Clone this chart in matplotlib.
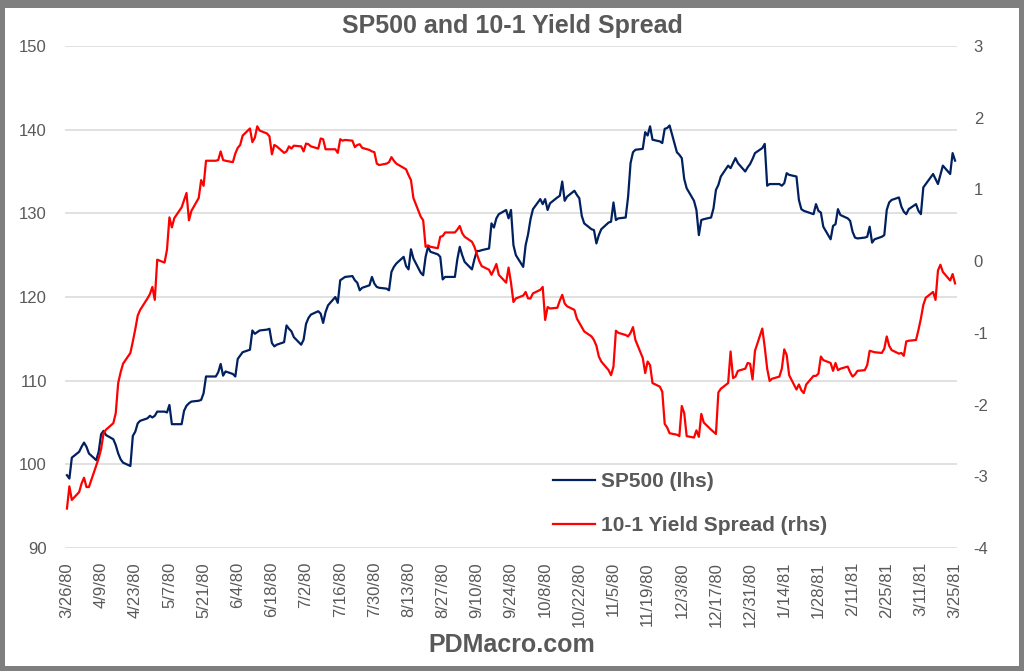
import matplotlib
matplotlib.use("Agg")
import matplotlib.pyplot as plt
import pandas as pd
from matplotlib.patches import Rectangle

# daily (business day) closes
sp500 = [
    98.7, 98.3, 100.8, 101.5, 102.1, 102.6, 102.1, 101.3, 100.5, 101.5,
    103.6, 104.0, 103.5, 103.0, 102.3, 101.3, 100.6, 100.2, 99.8, 103.4,
    103.9, 104.9, 105.2, 105.5, 105.8, 105.6, 105.8, 106.3, 106.3, 106.2,
    107.1, 104.8, 104.8, 104.8, 106.4, 107.0, 107.3, 107.5, 107.6, 107.7,
    108.5, 110.5, 110.5, 110.5, 111.0, 112.0, 110.6, 111.1, 110.8, 110.5,
    112.6, 113.0, 113.4, 113.7, 116.0, 115.6, 115.8, 116.0, 116.1, 116.2,
    114.5, 114.1, 114.3, 114.6, 116.6, 116.2, 115.9, 115.2, 114.3, 114.9,
    116.8, 117.5, 117.9, 118.3, 118.0, 116.9, 118.2, 119.0, 120.0, 119.3,
    122.0, 122.2, 122.4, 122.5, 122.0, 121.7, 120.8, 121.1, 121.4, 122.4,
    121.6, 121.2, 121.1, 121.0, 120.8, 123.0, 123.6, 124.0, 124.8, 123.7,
    123.3, 125.7, 124.6, 122.9, 122.6, 124.8, 126.0, 125.4, 125.1, 124.8,
    122.1, 122.4, 122.4, 122.4, 124.5, 126.0, 125.0, 124.2, 123.3, 124.5,
    125.5, 125.5, 125.6, 125.8, 128.8, 128.3, 129.4, 129.9, 130.4, 129.4,
    130.4, 126.2, 125.0, 123.6, 126.2, 127.5, 129.3, 130.5, 131.7, 131.1,
    131.7, 130.4, 131.2, 131.9, 132.1, 133.8, 131.5, 132.0, 132.7, 132.2,
    131.8, 129.7, 128.8, 128.1, 128.0, 126.4, 127.4, 128.1, 128.9, 129.0,
    131.3, 129.2, 129.4, 129.5, 132.0, 136.0, 137.3, 137.6, 137.7, 139.7,
    139.3, 140.4, 138.8, 138.6, 138.4, 140.1, 140.2, 140.5, 137.3, 137.0,
    136.6, 134.1, 133.0, 131.5, 130.4, 127.4, 129.2, 129.3, 129.5, 130.6,
    132.8, 133.4, 134.4, 135.7, 135.4, 136.0, 136.6, 136.0, 135.0, 135.5,
    135.9, 136.5, 137.2, 137.8, 138.3, 133.3, 133.5, 133.5, 133.5, 133.3,
    133.6, 134.8, 134.6, 134.4, 131.6, 130.5, 130.3, 130.2, 129.9, 131.1,
    130.3, 130.1, 128.4, 126.9, 128.5, 128.7, 130.5, 129.8, 129.4, 129.1,
    127.8, 127.1, 127.0, 127.1, 127.2, 128.4, 126.5, 126.9, 127.2, 127.4,
    130.4, 131.3, 131.6, 131.9, 130.8, 130.2, 129.9, 130.5, 131.1, 130.3,
    129.9, 133.1, 133.5, 134.7, 134.1, 133.5, 134.6, 135.7, 134.7, 137.2,
    136.3,
]

spread = [
    -3.45, -3.14, -3.33, -3.22, -3.10, -3.02, -3.15, -3.15, -2.85, -2.75,
    -2.62, -2.40, -2.35, -2.26, -2.12, -1.70, -1.55, -1.43, -1.28, -1.12,
    -0.95, -0.76, -0.68, -0.52, -0.46, -0.36, -0.54, 0.02, -0.02, 0.16,
    0.61, 0.47, 0.60, 0.75, 0.85, 0.95, 0.57, 0.70, 0.88, 1.13,
    1.05, 1.40, 1.40, 1.40, 1.41, 1.53, 1.41, 1.40, 1.38, 1.50,
    1.58, 1.62, 1.75, 1.85, 1.66, 1.72, 1.88, 1.82, 1.78, 1.74,
    1.49, 1.62, 1.60, 1.51, 1.53, 1.60, 1.57, 1.61, 1.60, 1.53,
    1.64, 1.63, 1.60, 1.57, 1.71, 1.70, 1.56, 1.56, 1.56, 1.51,
    1.70, 1.68, 1.69, 1.68, 1.59, 1.62, 1.63, 1.58, 1.55, 1.53,
    1.52, 1.36, 1.34, 1.36, 1.38, 1.45, 1.40, 1.36, 1.30, 1.28,
    1.20, 1.13, 0.88, 0.62, 0.57, 0.20, 0.22, 0.20, 0.18, 0.34,
    0.35, 0.40, 0.40, 0.40, 0.44, 0.49, 0.39, 0.34, 0.27, 0.20,
    0.10, 0.00, -0.07, -0.12, -0.19, -0.12, -0.04, -0.19, -0.30, -0.09,
    -0.30, -0.57, -0.52, -0.48, -0.43, -0.52, -0.52, -0.45, -0.40, -0.36,
    -0.82, -0.64, -0.66, -0.65, -0.55, -0.47, -0.59, -0.63, -0.68, -0.80,
    -0.86, -0.92, -0.98, -1.05, -1.10, -1.18, -1.33, -1.40, -1.52, -1.59,
    -1.47, -0.97, -1.00, -1.03, -1.05, -1.00, -0.92, -1.10, -1.35, -1.56,
    -1.40, -1.45, -1.70, -1.75, -1.82, -2.27, -2.32, -2.40, -2.42, -2.44,
    -2.02, -2.12, -2.44, -2.46, -2.36, -2.45, -2.13, -2.25, -2.35, -2.38,
    -2.41, -1.83, -1.78, -1.70, -1.26, -1.63, -1.61, -1.53, -1.50, -1.42,
    -1.43, -1.65, -1.25, -0.94, -1.20, -1.50, -1.67, -1.64, -1.61, -1.50,
    -1.23, -1.31, -1.59, -1.79, -1.72, -1.80, -1.84, -1.72, -1.60, -1.60,
    -1.57, -1.33, -1.38, -1.42, -1.53, -1.42, -1.52, -1.50, -1.47, -1.55,
    -1.61, -1.58, -1.53, -1.52, -1.45, -1.25, -1.26, -1.27, -1.28, -1.22,
    -1.05, -1.18, -1.24, -1.29, -1.28, -1.32, -1.12, -1.11, -1.10, -0.96,
    -0.80, -0.61, -0.51, -0.43, -0.54, -0.13, -0.05, -0.15, -0.27, -0.18,
    -0.31,
]

start, end = "1980-03-26", "1981-03-25"
dates = pd.bdate_range(start, end)
tick_dates = pd.date_range(start, end, freq="14D")
tick_labels = [f"{d.month}/{d.day}/{d.year % 100:02d}" for d in tick_dates]
assert len(dates) == len(sp500) == len(spread)

GREY = "#595959"
plt.rcParams["font.family"] = ["Liberation Sans", "DejaVu Sans"]
plt.rcParams["axes.unicode_minus"] = False

fig = plt.figure(figsize=(10.24, 6.71), dpi=100)
fig.patch.set_facecolor("#7f7f7f")
fig.add_artist(Rectangle((5 / 1024, 5 / 671), 1014 / 1024, 658 / 671,
                         transform=fig.transFigure, facecolor="white",
                         edgecolor="none", zorder=-5))

ax = fig.add_axes([65 / 1024, 123 / 671, 892 / 1024, 502 / 671])
ax.set_facecolor("none")
ax2 = ax.twinx()

h1, = ax.plot(dates, sp500, color="#002060", lw=1.6)
h2, = ax2.plot(dates, spread, color="#FF0000", lw=1.6)

ax.set_ylim(90, 150)
ax.set_yticks(range(90, 151, 10))
ax2.set_ylim(-4, 3)
ax2.set_yticks(range(-4, 4))
ax.grid(axis="y", color="#D9D9D9", lw=1.1)
ax.set_axisbelow(True)

ax.set_xlim(dates[0] - pd.Timedelta(days=0.8), dates[-1] + pd.Timedelta(days=0.8))
ax.set_xticks(tick_dates)
ax.set_xticklabels(tick_labels, rotation=90)

for a in (ax, ax2):
    for s in a.spines.values():
        s.set_visible(False)
ax.tick_params(axis="x", length=0, pad=10, labelsize=12, labelcolor=GREY)
ax.tick_params(axis="y", length=0, pad=13, labelsize=12, labelcolor=GREY)
ax2.tick_params(axis="y", length=0, pad=12, labelsize=12, labelcolor=GREY)

fig.text(0.5, 0.961, "SP500 and 10-1 Yield Spread", ha="center", va="center",
         fontsize=18, fontweight="bold", color=GREY)

fig.legend([h1, h2], ["SP500 (lhs)", "10-1 Yield Spread (rhs)"],
           loc="upper left", bbox_to_anchor=(553 / 1024, 1 - 472 / 671),
           bbox_transform=fig.transFigure, frameon=False, borderpad=0,
           borderaxespad=0, handlelength=2.0, handletextpad=0.3,
           labelspacing=1.2, prop={"weight": "bold", "size": 15},
           labelcolor=GREY)

fig.text(0.5, 0.039, "PDMacro.com", ha="center", va="center",
         fontsize=18, fontweight="bold", color=GREY)

fig.savefig("out.png", dpi=100, facecolor=fig.get_facecolor())
